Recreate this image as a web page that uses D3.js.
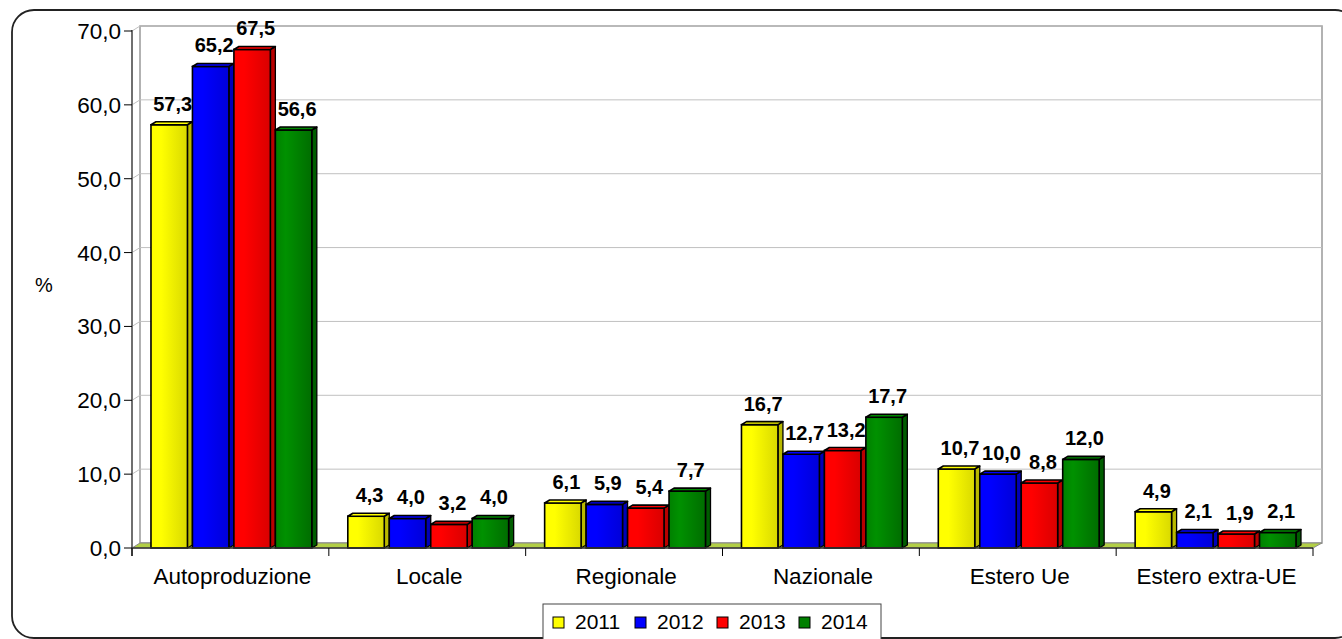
<!DOCTYPE html>
<html>
<head>
<meta charset="utf-8">
<script src="https://cdn.jsdelivr.net/npm/d3@7"></script>
<style>
  html, body { margin: 0; padding: 0; background: #fff; }
  svg { display: block; font-family: "Liberation Sans", Arial, sans-serif; }
</style>
</head>
<body>
<svg id="chart" width="1342" height="639"></svg>
<script>
// Origin of supplies (%), by year
const categories = ["Autoproduzione", "Locale", "Regionale", "Nazionale", "Estero Ue", "Estero extra-UE"];
const years = ["2011", "2012", "2013", "2014"];
const values2011 = [57.3, 4.3, 6.1, 16.7, 10.7, 4.9];
const values2012 = [65.2, 4.0, 5.9, 12.7, 10.0, 2.1];
const values2013 = [67.5, 3.2, 5.4, 13.2, 8.8, 1.9];
const values2014 = [56.6, 4.0, 7.7, 17.7, 12.0, 2.1];
const yTicks = [0, 10, 20, 30, 40, 50, 60, 70];
const colors = ["#ffff00", "#0000ff", "#ff0000", "#008000"];

const series = [values2011, values2012, values2013, values2014];

const svg = d3.select("#chart");
const fmt = v => d3.format(".1f")(v).replace(".", ",");

// plot geometry
const plotLeft = 132, plotRight = 1313, plotBase = 548, plotTop = 31;
const depthX = 8, depthY = 5;           // wall depth
const barSide = 5, barLift = 3;         // bar depth

const x0 = d3.scaleBand().domain(categories).range([plotLeft, plotRight]);
const x1 = d3.scaleBand().domain(years)
  .range([x0.bandwidth() * 0.0964, x0.bandwidth() * 0.939]);
const y = d3.scaleLinear().domain([0, 70]).range([plotBase, plotTop]);

// outer frame
svg.append("rect")
  .attr("x", 12).attr("y", 10).attr("width", 1345).attr("height", 628)
  .attr("rx", 22).attr("ry", 22)
  .attr("fill", "none").attr("stroke", "#222").attr("stroke-width", 1.8);

// gradients
const defs = svg.append("defs");
colors.forEach((c, i) => {
  const col = d3.color(c);
  const g = defs.append("linearGradient").attr("id", "g" + i)
    .attr("x1", "0%").attr("x2", "100%").attr("y1", "0%").attr("y2", "0%");
  g.append("stop").attr("offset", "0%").attr("stop-color", col.formatHex());
  g.append("stop").attr("offset", "28%").attr("stop-color", col.brighter(0.35).formatHex());
  g.append("stop").attr("offset", "100%").attr("stop-color", col.darker(0.45).formatHex());
});

// back wall
svg.append("rect")
  .attr("x", plotLeft + depthX).attr("y", plotTop - depthY)
  .attr("width", plotRight + depthX + 1 - (plotLeft + depthX)).attr("height", plotBase - plotTop)
  .attr("fill", "#fff").attr("stroke", "#999").attr("stroke-width", 1.5);

// gridlines (diagonal along side wall, then across back wall)
yTicks.forEach(t => {
  if (t === 0) return;
  const yy = y(t);
  svg.append("path")
    .attr("d", `M${plotLeft},${yy} L${plotLeft + depthX},${yy - depthY} L${plotRight + depthX + 1},${yy - depthY}`)
    .attr("fill", "none").attr("stroke", "#c0c0c0").attr("stroke-width", 1);
});

// floor
svg.append("path")
  .attr("d", `M${plotLeft},${plotBase} L${plotLeft + depthX},${plotBase - depthY} L${plotRight + depthX + 1},${plotBase - depthY} L${plotRight},${plotBase} Z`)
  .attr("fill", "#b2cf45").attr("stroke", "#8a8a8a").attr("stroke-width", 1);

// bars
categories.forEach((cat, ci) => {
  years.forEach((yr, si) => {
    const v = series[si][ci];
    const bx = x0(cat) + x1(yr);
    const w = x1.bandwidth() - barSide;
    const by = y(v);
    const col = d3.color(colors[si]);
    const g = svg.append("g");
    // side face
    g.append("path")
      .attr("d", `M${bx + w},${by} L${bx + w + barSide},${by - barLift} L${bx + w + barSide},${plotBase - barLift} L${bx + w},${plotBase} Z`)
      .attr("fill", col.darker(0.9).formatHex()).attr("stroke", "#000").attr("stroke-width", 1.3)
      .attr("stroke-linejoin", "round");
    // front face
    g.append("rect")
      .attr("x", bx).attr("y", by).attr("width", w).attr("height", plotBase - by)
      .attr("fill", `url(#g${si})`).attr("stroke", "#000").attr("stroke-width", 1.6);
    // top face
    g.append("path")
      .attr("d", `M${bx},${by} L${bx + barSide},${by - barLift} L${bx + w + barSide},${by - barLift} L${bx + w},${by} Z`)
      .attr("fill", col.brighter(0.2).formatHex()).attr("stroke", "#000").attr("stroke-width", 1.6)
      .attr("stroke-linejoin", "round");
  });
});

// value labels
categories.forEach((cat, ci) => {
  years.forEach((yr, si) => {
    const v = series[si][ci];
    svg.append("text")
      .attr("x", x0(cat) + x1(yr) + x1.bandwidth() / 2 + 1)
      .attr("y", y(v) - 14)
      .attr("text-anchor", "middle")
      .attr("font-size", 20).attr("font-weight", "bold").attr("fill", "#000")
      .text(fmt(v));
  });
});

// y axis
svg.append("line")
  .attr("x1", plotLeft).attr("x2", plotLeft).attr("y1", plotTop - 1).attr("y2", plotBase + 8)
  .attr("stroke", "#707070").attr("stroke-width", 2);
yTicks.forEach(t => {
  svg.append("line")
    .attr("x1", plotLeft - 8).attr("x2", plotLeft).attr("y1", y(t)).attr("y2", y(t))
    .attr("stroke", "#000").attr("stroke-width", 1);
  svg.append("text")
    .attr("x", 121).attr("y", y(t) + 8)
    .attr("text-anchor", "end").attr("font-size", 22.5).attr("fill", "#000")
    .text(fmt(t));
});
svg.append("text").attr("x", 44).attr("y", 292)
  .attr("text-anchor", "middle").attr("font-size", 20).text("%");

// x axis
svg.append("line")
  .attr("x1", plotLeft).attr("x2", plotRight).attr("y1", plotBase).attr("y2", plotBase)
  .attr("stroke", "#333").attr("stroke-width", 1.5);
const boundaries = categories.map(c => x0(c)).concat([plotRight]);
boundaries.forEach(bx => {
  svg.append("line")
    .attr("x1", bx).attr("x2", bx).attr("y1", plotBase).attr("y2", plotBase + 8)
    .attr("stroke", "#000").attr("stroke-width", 1);
});
categories.forEach(cat => {
  svg.append("text")
    .attr("x", x0(cat) + x0.bandwidth() / 2 + 2).attr("y", 584)
    .attr("text-anchor", "middle").attr("font-size", 22.5).attr("fill", "#000")
    .text(cat);
});

// legend
const legend = svg.append("g");
legend.append("rect")
  .attr("x", 543).attr("y", 604).attr("width", 338).attr("height", 45)
  .attr("fill", "#fff").attr("stroke", "#444").attr("stroke-width", 1);
const legX = d3.scalePoint().domain(years).range([553, 799]);
years.forEach((yr, i) => {
  legend.append("rect")
    .attr("x", legX(yr)).attr("y", 617).attr("width", 11).attr("height", 11)
    .attr("fill", colors[i]).attr("stroke", "#000").attr("stroke-width", 1);
  legend.append("text")
    .attr("x", legX(yr) + 22).attr("y", 628.5)
    .attr("font-size", 21).attr("fill", "#000").text(yr);
});
</script>
</body>
</html>
